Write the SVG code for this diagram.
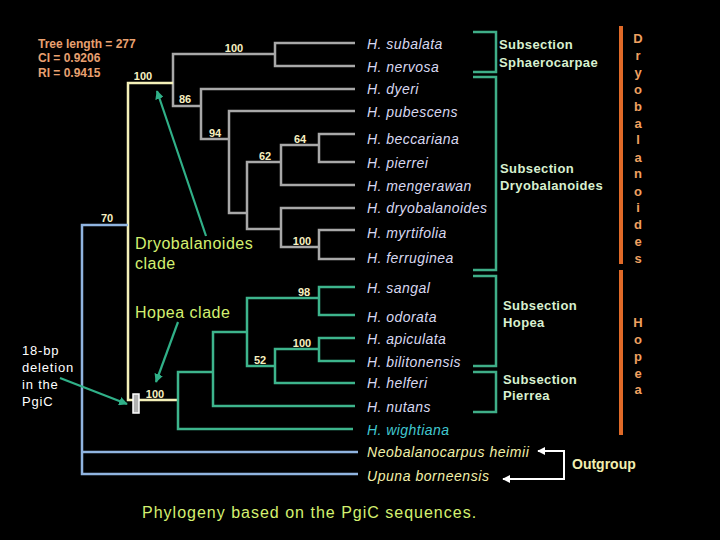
<svg xmlns="http://www.w3.org/2000/svg" width="720" height="540" viewBox="0 0 720 540">
<defs>
<style>
text{font-family:"Liberation Sans",Arial,sans-serif}
.sp{font-size:14px;font-style:italic;fill:#d8d8f0;letter-spacing:0.45px}
.og{font-size:14px;font-style:italic;fill:#f2f0a8;letter-spacing:0.55px}
.bs{font-size:11px;font-weight:bold;fill:#f8f0c0;text-anchor:middle}
.sub{font-size:13px;font-weight:bold;fill:#d8f0d0;letter-spacing:0.4px}
.vt{font-size:13px;font-weight:bold;fill:#f0a060;text-anchor:middle}
.stat{font-size:12px;font-weight:bold;fill:#e8a070}
.clade{font-size:16px;fill:#d4f070;letter-spacing:0.5px}
.gr{fill:none;stroke:#a8a8a8;stroke-width:2.5}
.gn{fill:none;stroke:#3db48c;stroke-width:2.5}
.yl{fill:none;stroke:#f4f0b8;stroke-width:2.5}
.bl{fill:none;stroke:#90b4e0;stroke-width:2.5}
.br{fill:none;stroke:#3fae88;stroke-width:2.5}
.ob{stroke:#e06a28;stroke-width:4}
.ta{stroke:#30b088;stroke-width:2.2;fill:none}
.wa{stroke:#ffffff;stroke-width:2;fill:none}
</style>
<marker id="ah" viewBox="0 0 10 10" refX="9" refY="5" markerWidth="4" markerHeight="4" orient="auto"><path d="M0,0 L10,5 L0,10 z" fill="#30b088"/></marker>
<marker id="wh" viewBox="0 0 10 10" refX="9" refY="5" markerWidth="4" markerHeight="4" orient="auto"><path d="M0,0 L10,5 L0,10 z" fill="#ffffff"/></marker>
</defs>
<rect width="720" height="540" fill="#000"/>

<g id="connectors">
<!-- grey Dryobalanoides clade -->
<path class="gr" d="M275,54 H173 V106 H201"/>
<path class="gr" d="M355,43 H275 V66 H355"/>
<path class="gr" d="M355,89 H201 V139 H229"/>
<path class="gr" d="M355,111 H229 V213 H247"/>
<path class="gr" d="M281,162 H247 V229 H281"/>
<path class="gr" d="M319,145 H281 V185 H355"/>
<path class="gr" d="M355,134 H319 V162 H355"/>
<path class="gr" d="M355,208 H281 V247 H319"/>
<path class="gr" d="M355,230 H319 V259 H355"/>
<!-- yellow -->
<path class="yl" d="M173,83 H128 V400 H178"/>
<!-- green Hopea clade -->
<path class="gn" d="M213,372 H178 V429 H353"/>
<path class="gn" d="M247,332 H213 V406 H355"/>
<path class="gn" d="M319,298 H247 V366 H275"/>
<path class="gn" d="M355,287 H319 V315 H355"/>
<path class="gn" d="M319,349 H275 V383 H355"/>
<path class="gn" d="M355,338 H319 V361 H355"/>
<!-- blue outgroup -->
<path class="bl" d="M128,225 H82 V474 H358"/>
<path class="bl" d="M82,452 H358"/>
<!-- subsection brackets -->
<path class="br" d="M473,32 H496 V72 H473"/>
<path class="br" d="M473,77 H496 V270 H473"/>
<path class="br" d="M473,276 H496 V366 H473"/>
<path class="br" d="M473,372 H496 V412 H473"/>
<!-- genus bars -->
<line class="ob" x1="621" y1="26" x2="621" y2="264"/>
<line class="ob" x1="621" y1="270" x2="621" y2="435"/>
<!-- annotation arrows -->
<line class="ta" x1="206" y1="236" x2="157" y2="91" marker-end="url(#ah)"/>
<line class="ta" x1="178" y1="322" x2="156" y2="382" marker-end="url(#ah)"/>
<line class="ta" x1="60" y1="378" x2="127" y2="404" marker-end="url(#ah)"/>
<path class="wa" d="M539,451 H564 V479 H504"/>
<line class="wa" x1="545" y1="451" x2="538" y2="451" marker-end="url(#wh)"/>
<line class="wa" x1="510" y1="479" x2="503" y2="479" marker-end="url(#wh)"/>
</g>

<g id="deletion-mark"><rect x="133" y="394" width="6" height="19" fill="#b0b0b0" stroke="#ffffff" stroke-width="1.5"/></g>

<g id="stats">
<text class="stat" x="38" y="47.5">Tree length = 277</text>
<text class="stat" x="38" y="61.5">CI = 0.9206</text>
<text class="stat" x="38" y="76.5">RI = 0.9415</text>
</g>

<g id="bootstrap">
<text class="bs" x="234" y="52">100</text>
<text class="bs" x="143" y="80">100</text>
<text class="bs" x="185" y="103">86</text>
<text class="bs" x="215" y="137">94</text>
<text class="bs" x="300" y="143">64</text>
<text class="bs" x="265" y="160">62</text>
<text class="bs" x="107" y="222">70</text>
<text class="bs" x="302" y="245">100</text>
<text class="bs" x="304" y="296">98</text>
<text class="bs" x="302" y="347">100</text>
<text class="bs" x="260" y="364">52</text>
<text class="bs" x="155" y="398">100</text>
</g>

<g id="taxa">
<g id="t-subalata"><text class="sp" x="367" y="49">H. subalata</text></g>
<g id="t-nervosa"><text class="sp" x="367" y="72">H. nervosa</text></g>
<g id="t-dyeri"><text class="sp" x="367" y="94">H. dyeri</text></g>
<g id="t-pubescens"><text class="sp" x="367" y="117">H. pubescens</text></g>
<g id="t-beccariana"><text class="sp" x="367" y="144">H. beccariana</text></g>
<g id="t-pierrei"><text class="sp" x="367" y="168">H. pierrei</text></g>
<g id="t-mengerawan"><text class="sp" x="367" y="191">H. mengerawan</text></g>
<g id="t-dryobalanoides"><text class="sp" x="367" y="213">H. dryobalanoides</text></g>
<g id="t-myrtifolia"><text class="sp" x="367" y="238">H. myrtifolia</text></g>
<g id="t-ferruginea"><text class="sp" x="367" y="263">H. ferruginea</text></g>
<g id="t-sangal"><text class="sp" x="367" y="293">H. sangal</text></g>
<g id="t-odorata"><text class="sp" x="367" y="322">H. odorata</text></g>
<g id="t-apiculata"><text class="sp" x="367" y="344">H. apiculata</text></g>
<g id="t-bilitonensis"><text class="sp" x="367" y="367">H. bilitonensis</text></g>
<g id="t-helferi"><text class="sp" x="367" y="388">H. helferi</text></g>
<g id="t-nutans"><text class="sp" x="367" y="412">H. nutans</text></g>
<g id="t-wightiana"><text class="sp" x="367" y="435" style="fill:#40c8d0">H. wightiana</text></g>
<g id="t-neobalanocarpus"><text class="og" x="367" y="457">Neobalanocarpus heimii</text></g>
<g id="t-upuna"><text class="og" x="367" y="481">Upuna borneensis</text></g>
</g>

<g id="subsections">
<g id="s-sphaerocarpae"><text class="sub" x="499" y="48.5">Subsection</text><text class="sub" x="499" y="66.5">Sphaerocarpae</text></g>
<g id="s-dryobalanoides"><text class="sub" x="500" y="172.5">Subsection</text><text class="sub" x="500" y="189.5">Dryobalanoides</text></g>
<g id="s-hopea"><text class="sub" x="503" y="309.5">Subsection</text><text class="sub" x="503" y="326.5">Hopea</text></g>
<g id="s-pierrea"><text class="sub" x="503" y="383.5">Subsection</text><text class="sub" x="503" y="399.5">Pierrea</text></g>
</g>

<g id="genus-dryobalanoides">
<text class="vt" x="638" y="43">D</text>
<text class="vt" x="638" y="60">r</text>
<text class="vt" x="638" y="77">y</text>
<text class="vt" x="638" y="94">o</text>
<text class="vt" x="638" y="111">b</text>
<text class="vt" x="638" y="128">a</text>
<text class="vt" x="638" y="144">l</text>
<text class="vt" x="638" y="162">a</text>
<text class="vt" x="638" y="178">n</text>
<text class="vt" x="638" y="196">o</text>
<text class="vt" x="638" y="212">i</text>
<text class="vt" x="638" y="229">d</text>
<text class="vt" x="638" y="246">e</text>
<text class="vt" x="638" y="263">s</text>
</g>
<g id="genus-hopea">
<text class="vt" x="638" y="327">H</text>
<text class="vt" x="638" y="344">o</text>
<text class="vt" x="638" y="361">p</text>
<text class="vt" x="638" y="378">e</text>
<text class="vt" x="638" y="394">a</text>
</g>

<g id="outgroup"><text x="572" y="469" style="font-size:14px;font-weight:bold;fill:#f2f0b0">Outgroup</text></g>

<g id="clade-dryobalanoides"><text class="clade" x="135" y="249">Dryobalanoides</text><text class="clade" x="135" y="269">clade</text></g>
<g id="clade-hopea"><text class="clade" x="135" y="318">Hopea clade</text></g>

<g id="deletion-note" style="font-size:13px;fill:#ffffff;letter-spacing:0.8px">
<text x="22" y="355">18-bp</text>
<text x="22" y="372">deletion</text>
<text x="22" y="389">in the</text>
<text x="22" y="406">PgiC</text>
</g>

<g id="title"><text x="142" y="518" style="font-size:16px;fill:#d4f070;letter-spacing:1px">Phylogeny based on the PgiC sequences.</text></g>
</svg>
